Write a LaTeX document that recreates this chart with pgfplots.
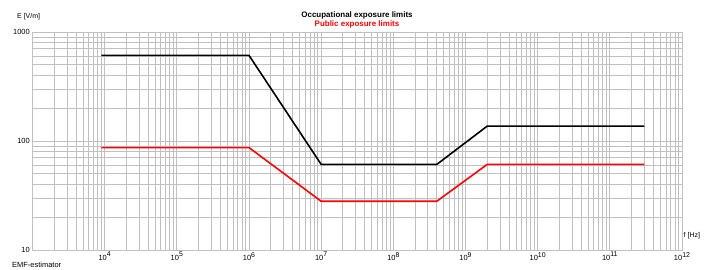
\documentclass[border=0pt]{standalone}
\usepackage{pgfplots}
\pgfplotsset{compat=1.18}
\usepackage{fontspec}
\setmainfont{Liberation Sans}
\definecolor{gridgray}{RGB}{192,192,192}
\definecolor{limred}{RGB}{255,0,0}
\newcommand{\ex}[1]{10\raisebox{3.8bp}{\fontsize{7}{7}\selectfont #1}}
\begin{document}
\begin{tikzpicture}[x=1bp,y=1bp]
\begin{axis}[
  at={(32.5bp,19bp)}, anchor=south west,
  scale only axis, width=649.5bp, height=218bp,
  xmode=log, ymode=log,
  xmin=1e3, xmax=1e12, ymin=10, ymax=1000,
  xtick={1e3,1e4,1e5,1e6,1e7,1e8,1e9,1e10,1e11,1e12},
  xticklabels={,\ex{4},\ex{5},\ex{6},\ex{7},\ex{8},\ex{9},\ex{10},\ex{11},\ex{12}},
  ytick={10,100,1000},
  yticklabels={10,100,1000},
  grid=both,
  major grid style={gridgray, line width=0.85bp},
  minor grid style={gridgray, line width=0.85bp},
  axis line style={gridgray, line width=0.85bp},
  major tick length=0pt, minor tick length=0pt,
  tick style={draw=none},
  xticklabel style={font=\fontsize{7.5}{7.5}\selectfont, inner sep=0pt, anchor=north, yshift=-2bp},
  yticklabel style={font=\fontsize{7.5}{7.5}\selectfont, inner sep=0pt, anchor=east, xshift=-2.5bp},
  clip=false,
]
\addplot[black, line width=1.6bp] coordinates {
  (9e3,610) (1e6,610) (1e7,61) (4e8,61) (2e9,137) (3e11,137)
};
\addplot[limred, line width=1.6bp] coordinates {
  (9e3,87) (1e6,87) (1e7,28) (4e8,28) (2e9,61) (3e11,61)
};
\end{axis}
\node[font=\bfseries\fontsize{8}{8}\selectfont, inner sep=0pt] at (357,253.5) {Occupational exposure limits};
\node[font=\bfseries\fontsize{8}{8}\selectfont, text=limred, inner sep=0pt] at (357,244.5) {Public exposure limits};
\node[font=\fontsize{7}{7}\selectfont, inner sep=0pt, anchor=west] at (17,252.5) {E [V/m]};
\node[font=\fontsize{7}{7}\selectfont, inner sep=0pt, anchor=west] at (683.5,33.5) {f [Hz]};
\node[font=\fontsize{7.5}{7.5}\selectfont, inner sep=0pt, anchor=west] at (12,4.5) {EMF-estimator};
\pgfresetboundingbox
\path (0,0) rectangle (707,269);
\end{tikzpicture}
\end{document}
